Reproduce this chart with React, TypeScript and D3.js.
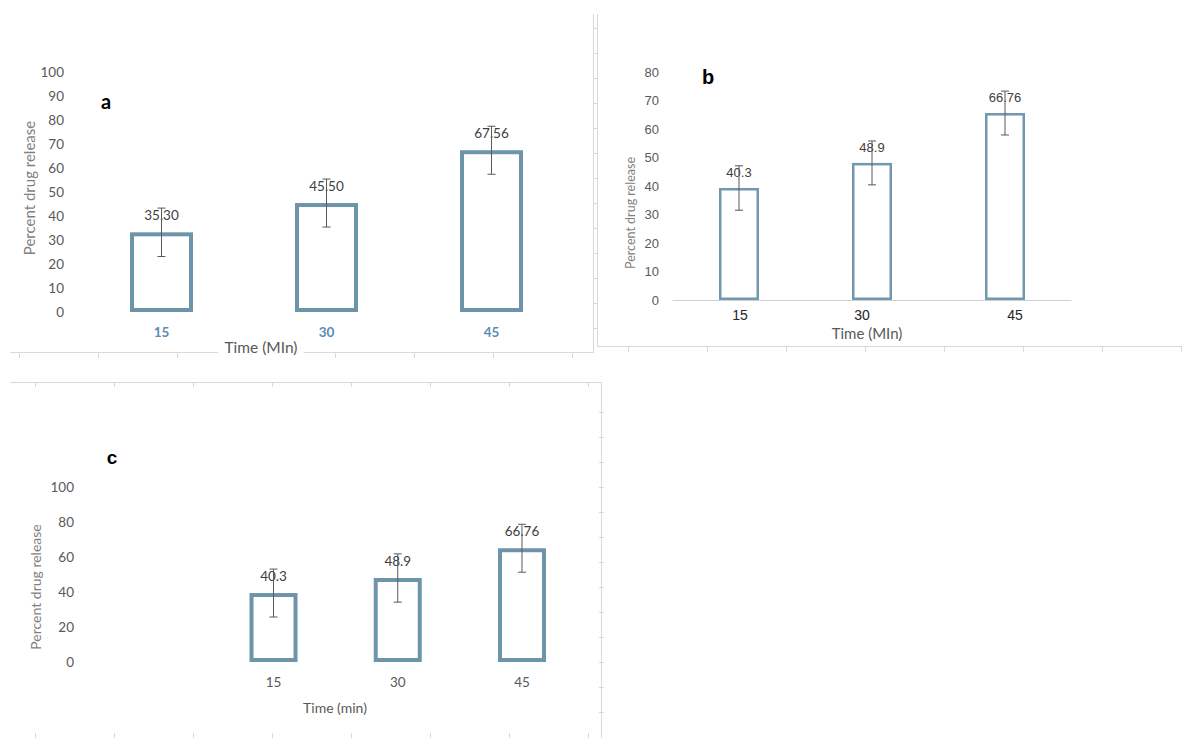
import React from "react";
import * as d3 from "d3";

// ---- data ----
const times = ["15", "30", "45"];

const aValues = [33.2, 45.4, 67.4];
const aErrors = [10.1, 10.0, 10.0];
const aLabels = ["35.30", "45.50", "67.56"];
const aTicks = [0, 10, 20, 30, 40, 50, 60, 70, 80, 90, 100];

const bValues = [39.3, 48.1, 65.6];
const bErrors = [7.8, 7.7, 7.7];
const bLabels = ["40.3", "48.9", "66.76"];
const bTicks = [0, 10, 20, 30, 40, 50, 60, 70, 80];

const cValues = [39.4, 48.0, 65.0];
const cErrors = [13.7, 13.8, 13.7];
const cLabels = ["40.3", "48.9", "66.76"];
const cTicks = [0, 20, 40, 60, 80, 100];

const CAL = "Lato, 'Open Sans', sans-serif";
const ARIAL = "'Liberation Sans', Arial, sans-serif";
const FRAME = "#d9d9d9";

type PanelCfg = {
  values: number[];
  errors: number[];
  labels: string[];
  ticks: number[];
  yDomain: [number, number];
  yRange: [number, number];
  xRange: [number, number];
  bw: number;
  barStroke: number;
  barColor: string;
  tickRight: number;
  tickFont: string;
  tickSize: number;
  xLab: { y: number; font: string; size: number; weight: string; color: string; dx: number[] };
  xTitle: { text: string; x: number; y: number; size: number; font: string; bg: boolean };
  yTitle: { x: number; y: number; size: number };
  letter: { text: string; x: number; y: number; size: number; font: string };
  labelDy: number;
  labelFont: string;
  labelSize: number;
  baseline: boolean;
};

function Panel({ cfg }: { cfg: PanelCfg }) {
  const y = d3.scaleLinear().domain(cfg.yDomain).range(cfg.yRange);
  const step = (cfg.xRange[1] - cfg.xRange[0]) / times.length;
  const pi = 1 - cfg.bw / step;
  const x = d3
    .scaleBand<string>()
    .domain(times)
    .range(cfg.xRange)
    .paddingInner(pi)
    .paddingOuter(pi / 2);
  const sw = cfg.barStroke;
  const titleW = cfg.xTitle.text.length * cfg.xTitle.size * 0.5;
  return (
    <g>
      {cfg.baseline && (
        <line x1={cfg.xRange[0]} x2={cfg.xRange[1]} y1={y(0) + 0.5} y2={y(0) + 0.5} stroke="#d0d0d0" strokeWidth={1.2} />
      )}
      {cfg.ticks.map((t) => (
        <text
          key={t}
          x={cfg.tickRight}
          y={y(t)}
          textAnchor="end"
          dominantBaseline="central"
          fontFamily={cfg.tickFont}
          fontSize={cfg.tickSize}
          fill="#595959"
        >
          {t}
        </text>
      ))}
      <text
        transform={`translate(${cfg.yTitle.x},${cfg.yTitle.y}) rotate(-90)`}
        textAnchor="middle"
        dominantBaseline="central"
        fontFamily={CAL}
        fontSize={cfg.yTitle.size}
        fill="#7f7f7f"
      >
        Percent drug release
      </text>
      <text
        x={cfg.letter.x}
        y={cfg.letter.y}
        textAnchor="middle"
        fontFamily={cfg.letter.font}
        fontWeight="bold"
        fontSize={cfg.letter.size}
        fill="#000"
      >
        {cfg.letter.text}
      </text>
      {times.map((t, i) => {
        const x0 = x(t)!;
        const cx = x0 + x.bandwidth() / 2;
        const v = cfg.values[i];
        const e = cfg.errors[i];
        const yTop = y(v + e);
        const yBot = y(v - e);
        return (
          <g key={t}>
            <rect
              x={x0 + sw / 2}
              y={y(v) + sw / 2}
              width={x.bandwidth() - sw}
              height={y(0) - y(v) - sw}
              fill="#fff"
              stroke={cfg.barColor}
              strokeWidth={sw}
            />
            <text
              x={cx}
              y={yTop + cfg.labelDy}
              textAnchor="middle"
              fontFamily={cfg.labelFont}
              fontSize={cfg.labelSize}
              fill="#404040"
            >
              {cfg.labels[i]}
            </text>
            <line x1={cx} x2={cx} y1={yTop} y2={yBot} stroke="#595959" strokeWidth={1} />
            <line x1={cx - 4} x2={cx + 4} y1={yTop} y2={yTop} stroke="#595959" strokeWidth={1} />
            <line x1={cx - 4} x2={cx + 4} y1={yBot} y2={yBot} stroke="#595959" strokeWidth={1} />
            <text
              x={cx + cfg.xLab.dx[i]}
              y={cfg.xLab.y}
              textAnchor="middle"
              fontFamily={cfg.xLab.font}
              fontSize={cfg.xLab.size}
              fontWeight={cfg.xLab.weight}
              fill={cfg.xLab.color}
            >
              {t}
            </text>
          </g>
        );
      })}
      {cfg.xTitle.bg && (
        <rect
          x={cfg.xTitle.x - titleW / 2 - 4}
          y={cfg.xTitle.y - cfg.xTitle.size}
          width={titleW + 8}
          height={cfg.xTitle.size + 6}
          fill="#fff"
        />
      )}
      <text
        x={cfg.xTitle.x}
        y={cfg.xTitle.y}
        textAnchor="middle"
        fontFamily={cfg.xTitle.font}
        fontSize={cfg.xTitle.size}
        fill="#595959"
      >
        {cfg.xTitle.text}
      </text>
    </g>
  );
}

const panelA: PanelCfg = {
  values: aValues,
  errors: aErrors,
  labels: aLabels,
  ticks: aTicks,
  yDomain: [0, 100],
  yRange: [312, 72],
  xRange: [79, 574],
  bw: 63,
  barStroke: 4,
  barColor: "#6d94a9",
  tickRight: 64,
  tickFont: CAL,
  tickSize: 13.5,
  xLab: { y: 337, font: CAL, size: 13.5, weight: "bold", color: "#5a8cb5", dx: [0, 0, 0] },
  xTitle: { text: "Time (MIn)", x: 261, y: 353, size: 15.5, font: CAL, bg: true },
  yTitle: { x: 29, y: 188, size: 15 },
  letter: { text: "a", x: 106, y: 109, size: 20, font: CAL },
  labelDy: 12,
  labelFont: CAL,
  labelSize: 13.5,
  baseline: false,
};

const panelB: PanelCfg = {
  values: bValues,
  errors: bErrors,
  labels: bLabels,
  ticks: bTicks,
  yDomain: [0, 80],
  yRange: [300, 72],
  xRange: [672.5, 1071.5],
  bw: 40,
  barStroke: 2.5,
  barColor: "#7198ac",
  tickRight: 659,
  tickFont: ARIAL,
  tickSize: 13,
  xLab: { y: 320, font: ARIAL, size: 14, weight: "normal", color: "#262626", dx: [1, -10, 10] },
  xTitle: { text: "Time (MIn)", x: 867, y: 339, size: 15, font: CAL, bg: true },
  yTitle: { x: 630, y: 213, size: 12.5 },
  letter: { text: "b", x: 708, y: 84, size: 20, font: ARIAL },
  labelDy: 11,
  labelFont: ARIAL,
  labelSize: 13,
  baseline: true,
};

const panelC: PanelCfg = {
  values: cValues,
  errors: cErrors,
  labels: cLabels,
  ticks: cTicks,
  yDomain: [0, 100],
  yRange: [662, 487],
  xRange: [211.4, 584.1],
  bw: 48,
  barStroke: 4,
  barColor: "#6d94a9",
  tickRight: 74,
  tickFont: CAL,
  tickSize: 13.5,
  xLab: { y: 687, font: CAL, size: 13.5, weight: "normal", color: "#595959", dx: [0, 0, 0] },
  xTitle: { text: "Time (min)", x: 335, y: 713, size: 14, font: CAL, bg: false },
  yTitle: { x: 35, y: 587, size: 14 },
  letter: { text: "c", x: 112, y: 464, size: 19, font: ARIAL },
  labelDy: 12,
  labelFont: CAL,
  labelSize: 13.5,
  baseline: false,
};

function Frames() {
  const aTicksX = d3.range(8).map((k) => 19 + 79 * k);
  const bTicksX = d3.range(8).map((k) => 628 + 79 * k);
  const cTicksX = d3.range(8).map((k) => 35 + 79 * k);
  const vTicksB = d3.range(13).map((k) => 28 + 25 * k);
  const vTicksC = d3.range(13).map((k) => 412 + 25 * k);
  return (
    <g stroke={FRAME} strokeWidth={1} fill="none">
      {/* panel a frame */}
      <line x1={10} x2={593} y1={352.5} y2={352.5} />
      {aTicksX.map((t) => (
        <line key={"a" + t} x1={t + 0.5} x2={t + 0.5} y1={352} y2={358} />
      ))}
      <line x1={593.5} x2={593.5} y1={14} y2={353} />
      {/* panel b frame */}
      <line x1={597.5} x2={597.5} y1={14} y2={347} />
      {vTicksB.map((t) => (
        <line key={"bv" + t} x1={593} x2={597} y1={t + 0.5} y2={t + 0.5} />
      ))}
      <line x1={597} x2={1182} y1={346.5} y2={346.5} />
      {bTicksX.map((t) => (
        <line key={"b" + t} x1={t + 0.5} x2={t + 0.5} y1={346} y2={352} />
      ))}
      {/* panel c frame */}
      <line x1={10} x2={601} y1={382.5} y2={382.5} />
      {cTicksX.map((t) => (
        <line key={"c" + t} x1={t + 0.5} x2={t + 0.5} y1={383} y2={387} />
      ))}
      <line x1={601.5} x2={601.5} y1={382} y2={738} />
      {vTicksC.map((t) => (
        <line key={"cv" + t} x1={599} x2={604} y1={t + 0.5} y2={t + 0.5} />
      ))}
      {cTicksX.map((t) => (
        <line key={"cb" + t} x1={t + 0.5} x2={t + 0.5} y1={733} y2={738} />
      ))}
    </g>
  );
}

export default function App() {
  return (
    <svg
      width={1182}
      height={738}
      style={{ position: "absolute", left: 0, top: 0, background: "#fff" }}
    >
      <rect width={1182} height={738} fill="#fff" />
      <Frames />
      <Panel cfg={panelA} />
      <Panel cfg={panelB} />
      <Panel cfg={panelC} />
    </svg>
  );
}
